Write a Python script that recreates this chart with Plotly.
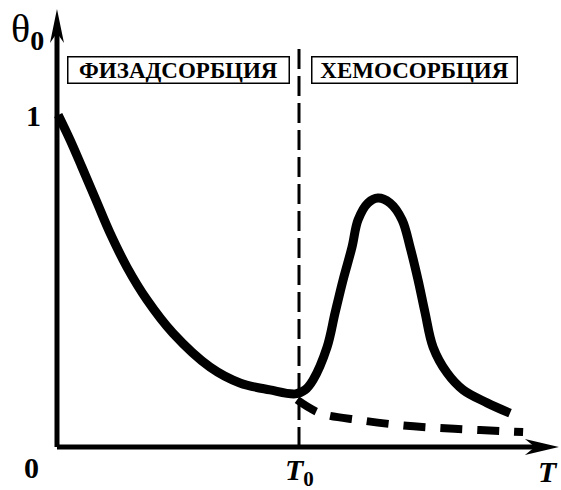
import plotly.graph_objects as go

# --- data (T in units of T0, theta0 as fraction of monolayer) ---
T_solid = [0.005, 0.054, 0.103, 0.161, 0.219, 0.289, 0.372, 0.479, 0.632, 0.756,
           0.880, 0.985, 1.025, 1.058, 1.116, 1.149, 1.182, 1.219, 1.244, 1.285,
           1.326, 1.376, 1.426, 1.459, 1.492, 1.521, 1.554, 1.612, 1.678, 1.777, 1.872]
theta_solid = [1.0, 0.925, 0.843, 0.744, 0.645, 0.542, 0.443, 0.343, 0.241, 0.193,
               0.172, 0.160, 0.172, 0.202, 0.301, 0.404, 0.503, 0.602, 0.684, 0.735,
               0.750, 0.735, 0.684, 0.602, 0.503, 0.404, 0.301, 0.223, 0.172, 0.133, 0.102]

T_dashed = [0.992, 1.087, 1.252, 1.417, 1.583, 1.748, 1.926]
theta_dashed = [0.142, 0.102, 0.081, 0.066, 0.057, 0.051, 0.045]

T0 = 1.0
theta_tick = 1.0
T_axis_end = 2.074
theta_axis_end = 1.319
region_labels = ["ФИЗАДСОРБЦИЯ", "ХЕМОСОРБЦИЯ"]
region_centers = [0.504, 1.479]

FONT = "Liberation Serif, DejaVu Serif, serif"

fig = go.Figure()
fig.add_trace(go.Scatter(x=T_solid, y=theta_solid, mode="lines",
                         line=dict(color="black", width=9, shape="spline", smoothing=1.0),
                         hoverinfo="skip", showlegend=False))
fig.add_trace(go.Scatter(x=T_dashed, y=theta_dashed, mode="lines",
                         line=dict(color="black", width=8, dash="22px,15px", shape="spline"),
                         hoverinfo="skip", showlegend=False))

shapes = [
    # axes
    dict(type="line", xref="x", yref="y", x0=0, y0=0, x1=T_axis_end - 0.08, y1=0,
         line=dict(color="black", width=5)),
    dict(type="line", xref="x", yref="y", x0=0, y0=0, x1=0, y1=theta_axis_end - 0.06,
         line=dict(color="black", width=5)),
    # arrowheads
    dict(type="path", xref="x", yref="y", xsizemode="pixel", ysizemode="pixel",
         xanchor=T_axis_end, yanchor=0,
         path="M0,0 L-34,8 L-24,0 L-34,-8 Z", fillcolor="black", line=dict(width=0)),
    dict(type="path", xref="x", yref="y", xsizemode="pixel", ysizemode="pixel",
         xanchor=0, yanchor=theta_axis_end,
         path="M0,0 L-7,-34 L0,-24 L7,-34 Z", fillcolor="black", line=dict(width=0)),
    # T0 divider
    dict(type="line", xref="x", yref="y", x0=T0, y0=0, x1=T0, y1=1.202,
         line=dict(color="black", width=3, dash="20px,7px")),
]

annotations = [
    dict(x=-0.200, y=1.253, xref="x", yref="y", xanchor="left", yanchor="middle",
         text="θ<sub><b>0</b></sub>", showarrow=False,
         font=dict(family=FONT, size=40, color="black")),
    dict(x=-0.099, y=theta_tick, xref="x", yref="y", xanchor="center", yanchor="middle",
         text="<b>1</b>", showarrow=False, font=dict(family=FONT, size=30, color="black")),
    dict(x=-0.107, y=-0.063, xref="x", yref="y", xanchor="center", yanchor="middle",
         text="<b>0</b>", showarrow=False, font=dict(family=FONT, size=30, color="black")),
    dict(x=T0 + 0.004, y=-0.076, xref="x", yref="y", xanchor="center", yanchor="middle",
         text="<b><i>T</i><sub>0</sub></b>", showarrow=False,
         font=dict(family=FONT, size=30, color="black")),
    dict(x=2.029, y=-0.075, xref="x", yref="y", xanchor="center", yanchor="middle",
         text="<b><i>T</i></b>", showarrow=False, font=dict(family=FONT, size=30, color="black")),
]
for lbl, cx, w in zip(region_labels, region_centers, [220, 204]):
    annotations.append(dict(x=cx, y=1.136, xref="x", yref="y", xanchor="center", yanchor="middle",
                            text="<b>" + lbl + "</b>", showarrow=False,
                            width=w, height=25, borderpad=0,
                            bordercolor="black", borderwidth=1.5, bgcolor="white",
                            font=dict(family=FONT, size=23, color="black")))

fig.update_layout(
    width=561, height=490,
    margin=dict(l=0, r=0, t=0, b=0),
    paper_bgcolor="white", plot_bgcolor="white",
    xaxis=dict(range=[-0.2355, 2.0826], visible=False, fixedrange=True),
    yaxis=dict(range=[-0.1295, 1.3464], visible=False, fixedrange=True),
    shapes=shapes, annotations=annotations, showlegend=False,
)

fig.write_html("out.html", config={"displayModeBar": False},
               post_script="document.body.style.margin='0px';")
